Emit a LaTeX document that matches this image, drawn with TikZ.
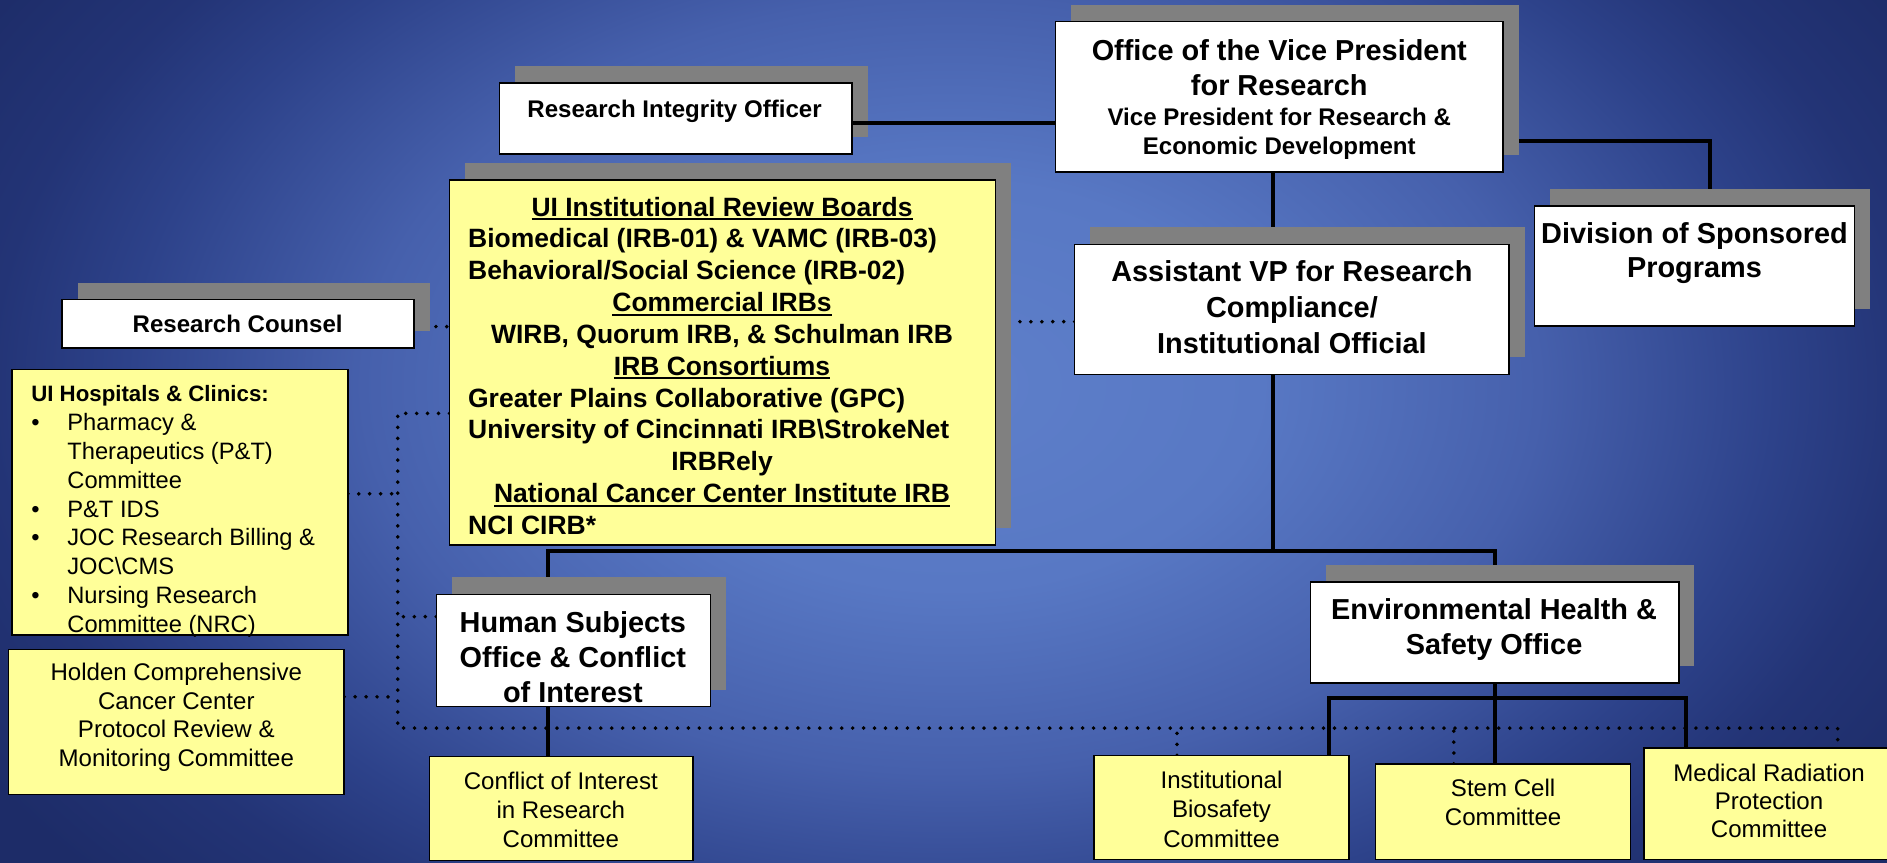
\documentclass[tikz,border=0pt]{standalone}
\usepackage{fontspec}
\setmainfont{Liberation Sans}
\usetikzlibrary{shadows,calc}
\pgfdeclarelayer{bglayer}
\pgfdeclarelayer{lines}
\pgfsetlayers{bglayer,lines,main}
\definecolor{bgA}{RGB}{94,127,202}
\definecolor{bgB}{RGB}{88,120,196}
\definecolor{bgC}{RGB}{70,96,172}
\definecolor{bgD}{RGB}{45,66,138}
\definecolor{bgE}{RGB}{35,52,118}
\definecolor{bgF}{RGB}{29,44,104}
\definecolor{shadowgray}{RGB}{128,128,128}
\definecolor{boxyellow}{RGB}{255,255,153}
\pgfdeclareradialshading{bgshade}{\pgfpoint{0bp}{0bp}}{color(0bp)=(bgA); color(12.5bp)=(bgB); color(23.75bp)=(bgC); color(33.3bp)=(bgD); color(38.75bp)=(bgE); color(45.8bp)=(bgF); color(50bp)=(bgF)}
\newcommand\Ln[1]{\begin{tabular}[t]{@{}c@{}}#1\end{tabular}}
\newcommand\Lt[1]{\begin{tabular}[t]{@{}l@{}}#1\end{tabular}}
\newcommand\Lc[1]{\makebox[422pt][c]{#1}}
\newcommand\Ll[1]{\makebox[422pt][l]{#1}}
\newsavebox\ulbox
\newcommand\myul[1]{\sbox\ulbox{#1}\rlap{\rule[-3.5pt]{\wd\ulbox}{1.6pt}}\usebox\ulbox}
\newcommand\fsz[2]{\fontsize{#1}{#2}\selectfont}
\newcommand\bul{\makebox[30pt][l]{\textbullet}}
\newcommand\ind{\hspace*{30pt}}
\tikzset{
  conn/.style={line width=3.3pt, black},
  dotc/.style={line width=3.3pt, black, line cap=round, dash pattern=on 0pt off 9.1pt},
  boxbase/.style={draw=black, line width=1.2pt, inner sep=0pt, outer sep=0pt, anchor=north west},
  wbox/.style={boxbase, fill=white},
  ybox/.style={boxbase, fill=boxyellow},
  shad/.style={general shadow={draw=none, fill=shadowgray, shadow xshift=13pt, shadow yshift=14pt}},
  txt/.style={inner sep=0pt, outer sep=0pt, anchor=base},
  txtw/.style={inner sep=0pt, outer sep=0pt, anchor=base west}
}
\begin{document}
\begin{tikzpicture}[x=1pt, y=-1pt]
\useasboundingbox (0,0) rectangle (1568,716.3);
% background
\begin{pgfonlayer}{bglayer}
\fill[bgF] (0,0) rectangle (1568,716.3);
\begin{scope}
  \clip (0,0) rectangle (1568,716.3);
  \begin{scope}[transform canvas={shift={(790,320)}, xscale=20.5, yscale=13.5}]
    \pgftext{\pgfuseshading{bgshade}}
  \end{scope}
\end{scope}
\end{pgfonlayer}

% boxes
\node[wbox, shad, minimum width=372pt, minimum height=125pt] (ovp) at (877,18) {};
\node[wbox, shad, minimum width=293pt, minimum height=59pt] (rio) at (415,69) {};
\node[wbox, shad, minimum width=266pt, minimum height=100pt] (div) at (1275,171) {};
\node[wbox, shad, minimum width=361pt, minimum height=108pt] (avp) at (893,203) {};
\node[ybox, shad, minimum width=453.5pt, minimum height=303.4pt] (irb) at (373.5,149.6) {};
\node[wbox, shad, minimum width=292.5pt, minimum height=40pt] (rc) at (51.5,249) {};
\node[ybox, minimum width=279pt, minimum height=220.6pt] (uih) at (10,307) {};
\node[ybox, minimum width=279pt, minimum height=120.5pt] (hold) at (7,539.5) {};
\node[wbox, shad, minimum width=228pt, minimum height=93.4pt] (hs) at (362.5,493.8) {};
\node[ybox, minimum width=219pt, minimum height=86.5pt] (coi) at (356.8,628.7) {};
\node[wbox, shad, minimum width=306pt, minimum height=84pt] (ehs) at (1089,483.7) {};
\node[ybox, minimum width=212pt, minimum height=86.4pt] (ibc) at (909,627.6) {};
\node[ybox, minimum width=212pt, minimum height=79.2pt] (stem) at (1143,634.8) {};
\node[ybox, minimum width=214pt, minimum height=92.4pt] (mrp) at (1366,621.6) {};

% coordinates
\coordinate (bar) at (1058,458);
\coordinate (ehsbar) at (1242,580);
\coordinate (dl) at (330.5,605);
\coordinate (dr) at (1527,605);
\path ([yshift=7pt]uih.east) coordinate (uihd);
\path ([yshift=20.75pt]hold.east) coordinate (holdd);
\path ([yshift=28.1pt]hs.west) coordinate (hsd);
\path ([xshift=-37pt]ibc.north) coordinate (ibcd);
\path ([xshift=-41pt]stem.north) coordinate (stemd);

% connectors, below boxes and shadows
\begin{pgfonlayer}{lines}
\draw[conn] ([yshift=-37pt]ovp.east) -| ([xshift=12.5pt]div.north);
\draw[conn] ([xshift=-5pt]ovp.south) -- ([xshift=-5pt]ovp.south |- avp.north);
\draw[conn] ([xshift=-15.5pt]avp.south) -- (bar);
\draw[conn] ([xshift=-21.25pt]hs.north) |- (bar) -| (ehs.north);
\draw[conn] ([xshift=-21.25pt]hs.south) -- ([xshift=-21.25pt]hs.south |- coi.north);
\draw[conn] (ehs.south) -- (ehs.south |- stem.north);
\draw[conn] ([xshift=89pt]ibc.north) |- (ehsbar) -| ([xshift=-72pt]mrp.north);
\draw[dotc] ([yshift=-2.4pt]rc.east) -- ([yshift=-2.4pt]rc.east -| irb.west);
\draw[dotc] ([yshift=-10.3pt]avp.west) -- ([yshift=-10.3pt]avp.west -| irb.east);
\draw[dotc] ([yshift=-42.2pt]irb.west) -| (dl) -- (dr) -- (dr |- mrp.north);
\draw[dotc] (uihd) -- (uihd -| dl);
\draw[dotc] (holdd) -- (holdd -| dl);
\draw[dotc] (hsd) -- (hsd -| dl);
\draw[dotc] (ibcd) -- (ibcd |- dl);
\draw[dotc] (stemd) -- (stemd |- dl);
\end{pgfonlayer}
\draw[conn] ([yshift=-4pt]rio.east) -- ([yshift=-4pt]rio.east -| ovp.west);

% texts
\node[txt, font=\bfseries\fsz{24}{29}] (ovpa) at (1063,50) {\Ln{Office of the Vice President\\for Research}};
\node[txt, font=\bfseries\fsz{20}{24}] (ovpb) at (1063,104) {\Ln{Vice President for Research \&\\Economic Development}};
\node[txt, font=\bfseries\fsz{20}{24}] (riot) at (560.5,97.5) {Research Integrity Officer};
\node[txt, font=\bfseries\fsz{24}{29}] (divt) at (1408,202) {\Ln{Division of Sponsored\\Programs}};
\node[txt, font=\bfseries\fsz{24}{30}] (avpt) at (1073.5,234) {\Ln{Assistant VP for Research\\Compliance/\\Institutional Official}};
\node[txt, font=\bfseries\fsz{20}{24}] (rct) at (197.5,276.5) {Research Counsel};
\node[txtw, font=\bfseries\fsz{22}{26.45}] (irbt) at (389,179.5) {\Lt{%
\Lc{\myul{UI Institutional Review Boards}}\\
\Ll{Biomedical (IRB-01) \& VAMC (IRB-03)}\\
\Ll{Behavioral/Social Science (IRB-02)}\\
\Lc{\myul{Commercial IRBs}}\\
\Lc{WIRB, Quorum IRB, \& Schulman IRB}\\
\Lc{\myul{IRB Consortiums}}\\
\Ll{Greater Plains Collaborative (GPC)}\\
\Ll{University of Cincinnati IRB\textbackslash StrokeNet}\\
\Lc{IRBRely}\\
\Lc{\myul{National Cancer Center Institute IRB}}\\
\Ll{NCI CIRB*}}};
\node[txtw, font=\fsz{19.7}{23.9}] (uiht) at (26,334) {\Lt{%
{\bfseries\fontsize{18.5}{23.9}\selectfont UI Hospitals \& Clinics:}\\
\bul Pharmacy \&\\
\ind Therapeutics (P\&T)\\
\ind Committee\\
\bul P\&T IDS\\
\bul JOC Research Billing \&\\
\ind JOC\textbackslash CMS\\
\bul Nursing Research\\
\ind Committee (NRC)}};
\node[txt, font=\fsz{20}{23.8}] (holdt) at (146.5,565.6) {\Ln{Holden Comprehensive\\Cancer Center\\Protocol Review \&\\Monitoring Committee}};
\node[txt, font=\bfseries\fsz{24}{29}] (hst) at (476,525.7) {\Ln{Human Subjects\\Office \& Conflict\\of Interest}};
\node[txt, font=\fsz{20}{24}] (coit) at (466,656.4) {\Ln{Conflict of Interest\\in Research\\Committee}};
\node[txt, font=\bfseries\fsz{24}{29}] (ehst) at (1241.5,515) {\Ln{Environmental Health \&\\Safety Office}};
\node[txt, font=\fsz{20}{24.5}] (ibct) at (1015,655) {\Ln{Institutional\\Biosafety\\Committee}};
\node[txt, font=\fsz{20}{24}] (stemt) at (1249,662) {\Ln{Stem Cell\\Committee}};
\node[txt, font=\fsz{20}{23.5}] (mrpt) at (1470,649) {\Ln{Medical Radiation\\Protection\\Committee}};
\end{tikzpicture}
\end{document}
